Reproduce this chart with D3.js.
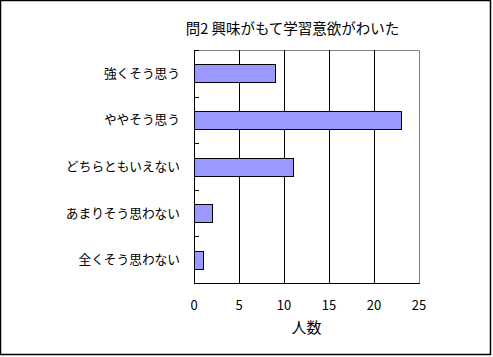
<!DOCTYPE html>
<html><head><meta charset="utf-8">
<script src="https://cdn.jsdelivr.net/npm/d3@7"></script>
<style>body{margin:0;background:#fff}svg{display:block}text{font-family:"Noto Sans CJK JP","Noto Sans",sans-serif;fill:#000}</style>
</head><body>
<script>
const categories = ["強くそう思う","ややそう思う","どちらともいえない","あまりそう思わない","全くそう思わない"];
const values = [9,23,11,2,1];
const xTicks = [0,5,10,15,20,25];
const title = "問2 興味がもて学習意欲がわいた";
const xTitle = "人数";

const W=493,H=357;
const svg=d3.select("body").append("svg").attr("width",W).attr("height",H);
svg.append("rect").attr("x",0.5).attr("y",0.5).attr("width",490).attr("height",354).attr("fill","#fff").attr("stroke","#000").attr("stroke-width",1.5);

const m={l:194,r:419,t:50,b:283};
const x=d3.scaleLinear().domain([0,25]).range([m.l,m.r]);
const y=d3.scaleBand().domain(categories).range([m.t,m.b]);

svg.append("path").attr("d",`M${m.l},${m.t+0.5}H${m.r+0.5}V${m.b}`).attr("fill","none").attr("stroke","#808080");

svg.append("g").selectAll("line").data(xTicks.filter(t=>t>0&&t<25)).join("line")
 .attr("x1",d=>Math.round(x(d))+0.5).attr("x2",d=>Math.round(x(d))+0.5)
 .attr("y1",m.t).attr("y2",m.b).attr("stroke","#000");

const bh=18;
svg.append("g").selectAll("rect").data(values).join("rect")
 .attr("x",m.l+0.5).attr("y",(d,i)=>Math.round(y(categories[i])+y.bandwidth()/2-bh/2)+0.5)
 .attr("width",d=>x(d)-m.l).attr("height",bh)
 .attr("fill","#9999FF").attr("stroke","#000");

svg.append("line").attr("x1",m.l+0.5).attr("x2",m.l+0.5).attr("y1",m.t).attr("y2",m.b+0.5).attr("stroke","#000");
const bounds=categories.map(c=>y(c));
svg.append("g").selectAll("line").data(bounds).join("line")
 .attr("x1",m.l).attr("x2",m.l+5).attr("y1",d=>Math.round(d)+0.5).attr("y2",d=>Math.round(d)+0.5).attr("stroke","#000");
svg.append("line").attr("x1",m.l).attr("x2",m.r+1).attr("y1",m.b+0.5).attr("y2",m.b+0.5).attr("stroke","#000");

svg.append("g").selectAll("text").data(categories).join("text")
 .attr("x",180).attr("y",d=>y(d)+y.bandwidth()/2).attr("dy","0.35em")
 .attr("text-anchor","end").attr("font-size",12.7).text(d=>d);

svg.append("g").selectAll("text").data(xTicks).join("text")
 .attr("x",d=>x(d)).attr("y",305).attr("dy","0.35em")
 .attr("text-anchor","middle").attr("font-size",13).text(d=>d);

svg.append("text").attr("x",(m.l+m.r)/2).attr("y",328).attr("dy","0.35em").attr("text-anchor","middle").attr("font-size",15).text(xTitle);
svg.append("text").attr("x",292.5).attr("y",29).attr("dy","0.35em").attr("text-anchor","middle").attr("font-size",14.5).text(title);
</script>
</body></html>
